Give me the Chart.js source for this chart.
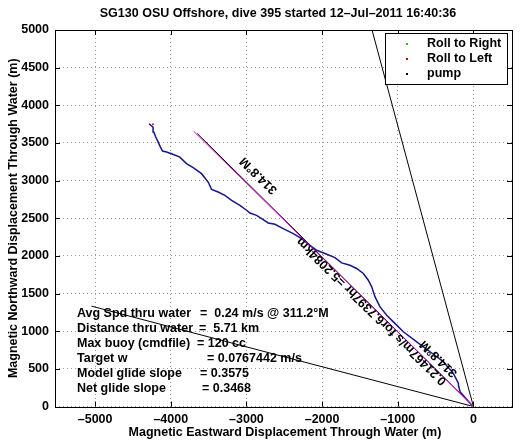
<!DOCTYPE html>
<html>
<head>
<meta charset="utf-8">
<script src="https://cdn.jsdelivr.net/npm/chart.js@4.4.0/dist/chart.umd.min.js"></script>
<style>
html, body { margin: 0; padding: 0; background: #fff; }
</style>
</head>
<body>
<canvas id="graph" width="521" height="442"></canvas>
<script>
// glider track through water (m), from surfacing point outward
const trackX = [0, -44, -176, -198, -198, -265, -397, -573, -749, -926, -1058, -1146, -1234, -1300, -1344, -1389, -1455, -1543, -1631, -1741, -1830, -1962, -2072, -2160, -2270, -2381, -2514, -2623, -2712, -2778, -2866, -2954, -2998, -3087, -3196, -3285, -3374, -3461, -3506, -3593, -3704, -3792, -3880, -3990, -4056, -4109, -4136, -4167, -4198, -4224, -4234, -4287];
const trackY = [0, 42, 196, 285, 308, 440, 594, 727, 859, 992, 1124, 1213, 1323, 1456, 1589, 1677, 1766, 1833, 1876, 1907, 1978, 2031, 2075, 2141, 2230, 2297, 2363, 2420, 2437, 2482, 2539, 2570, 2606, 2672, 2738, 2805, 2848, 2884, 2981, 3092, 3172, 3225, 3312, 3357, 3379, 3392, 3445, 3511, 3578, 3644, 3710, 3755];

// heading lines
const headingX = [0, -3695];
const headingY = [0, 3653];
const courseX = [0, -3650];
const courseY = [0, 3625];
const steepX = [0, -1340];
const steepY = [0, 5000];
const shallowX = [0, -5048];
const shallowY = [0, 1333];

// legend-only series
const rollRightX = [];
const rollRightY = [];
const rollLeftX = [-4235];
const rollLeftY = [3748];
const pumpX = [];
const pumpY = [];

const xTicks = [-5000, -4000, -3000, -2000, -1000, 0];
const yTicks = [0, 500, 1000, 1500, 2000, 2500, 3000, 3500, 4000, 4500, 5000];

const summaryLabels = ['Avg Spd thru water', 'Distance thru water', 'Max buoy (cmdfile)', 'Target w', 'Model glide slope', 'Net glide slope'];
const summaryValues = ['=  0.24 m/s @ 311.2\u00b0M', '=  5.71 km', '= 120 cc', '= 0.0767442 m/s', '= 0.3575', '= 0.3468'];
const summaryEqX = [200, 199, 197, 207, 200, 202];

// labels along the heading line: text, anchor (data), offset (px)
const lineLabels = ['0.21467m/s for6.7397hr =5.2084km', '314.8\u00b0M', '314.8\u00b0M'];
const lineLabelX = [-348, -329, -2745];
const lineLabelY = [345, 327, 2722];
const lineLabelOff = [0, 13, 17];

const FONT = '"Liberation Sans", Arial, Helvetica, sans-serif';

function pts(xs, ys) { return xs.map((x, i) => ({x: x, y: ys[i]})); }
function fmt(v) { return v < 0 ? '\u2013' + Math.abs(v) : '' + v; }

const decor = {
  id: 'decor',
  afterDatasetsDraw(chart) {
    const ctx = chart.ctx, a = chart.chartArea;
    const sx = chart.scales.x, sy = chart.scales.y;
    ctx.save();
    ctx.fillStyle = '#000';
    ctx.font = 'bold 12.5px ' + FONT;

    // labels along heading line
    const o = {x: sx.getPixelForValue(0), y: sy.getPixelForValue(0)};
    const e = {x: sx.getPixelForValue(headingX[1]), y: sy.getPixelForValue(headingY[1])};
    const ang = Math.atan2(e.y - o.y, e.x - o.x);
    ctx.textBaseline = 'alphabetic';
    ctx.textAlign = 'left';
    lineLabels.forEach((t, i) => {
      ctx.save();
      ctx.translate(sx.getPixelForValue(lineLabelX[i]), sy.getPixelForValue(lineLabelY[i]));
      ctx.rotate(ang);
      ctx.fillText(t, 0, lineLabelOff[i]);
      ctx.restore();
    });

    // summary text
    ctx.textBaseline = 'middle';
    summaryLabels.forEach((t, i) => {
      const y = 314 + i * 15;
      ctx.fillText(t, 77, y);
      ctx.fillText(summaryValues[i], summaryEqX[i], y);
    });

    // inside ticks
    ctx.strokeStyle = '#000';
    ctx.lineWidth = 1;
    ctx.beginPath();
    xTicks.forEach(v => {
      const x = Math.round(sx.getPixelForValue(v)) + 0.5;
      ctx.moveTo(x, a.bottom); ctx.lineTo(x, a.bottom - 5);
      ctx.moveTo(x, a.top); ctx.lineTo(x, a.top + 5);
    });
    yTicks.forEach(v => {
      const y = Math.round(sy.getPixelForValue(v)) + 0.5;
      ctx.moveTo(a.left, y); ctx.lineTo(a.left + 5, y);
      ctx.moveTo(a.right, y); ctx.lineTo(a.right - 5, y);
    });
    ctx.stroke();

    // box
    ctx.strokeRect(Math.round(a.left) + 0.5, Math.round(a.top) + 0.5, Math.round(a.right - a.left), Math.round(a.bottom - a.top));

    // legend
    const lx = 385.5, ly = 33.5, lw = 122, lh = 51;
    ctx.fillStyle = '#fff';
    ctx.fillRect(lx, ly, lw, lh);
    ctx.strokeRect(lx, ly, lw, lh);
    const items = chart.data.datasets.filter(d => d.inLegend);
    items.forEach((d, i) => {
      const y = 44 + i * 15;
      ctx.fillStyle = d.backgroundColor;
      ctx.fillRect(406, y - 1, 2, 2);
      ctx.fillStyle = '#000';
      ctx.fillText(d.label, 427, y);
    });
    ctx.restore();
  },
  afterDraw(chart) {
    const ctx = chart.ctx, a = chart.chartArea;
    ctx.save();
    ctx.fillStyle = '#000';
    ctx.font = 'bold 12.5px ' + FONT;
    ctx.textAlign = 'center';
    ctx.textBaseline = 'middle';
    ctx.fillText('SG130 OSU Offshore, dive 395 started 12\u2013Jul\u20132011 16:40:36', 278, 14);
    ctx.fillText('Magnetic Eastward Displacement Through Water (m)', 285, 433);
    ctx.translate(14, (a.top + a.bottom) / 2);
    ctx.rotate(-Math.PI / 2);
    ctx.fillText('Magnetic Northward Displacement Through Water (m)', 0, 0);
    ctx.restore();
  }
};

const lineDs = (label, xs, ys, color, width) => ({
  label: label, data: pts(xs, ys), showLine: true, borderColor: color, backgroundColor: color,
  borderWidth: width, pointRadius: 0, fill: false, tension: 0
});
const dotDs = (label, xs, ys, color) => ({
  label: label, data: pts(xs, ys), showLine: false, borderColor: color, backgroundColor: color,
  pointRadius: 1.2, pointStyle: 'rect', borderWidth: 0, inLegend: true
});

const tickFont = {family: FONT, size: 12.5, weight: 'bold'};

new Chart(document.getElementById('graph').getContext('2d'), {
  type: 'scatter',
  data: {
    datasets: [
      lineDs('current A', steepX, steepY, '#000', 1),
      lineDs('current B', shallowX, shallowY, '#000', 1),
      lineDs('course', courseX, courseY, '#000', 1),
      lineDs('track', trackX, trackY, '#161690', 1.5),
      lineDs('heading', headingX, headingY, '#e000e0', 1),
      dotDs('Roll to Right', rollRightX, rollRightY, '#00d000'),
      dotDs('Roll to Left', rollLeftX, rollLeftY, '#d00000'),
      dotDs('pump', pumpX, pumpY, '#000')
    ].map((d, i) => Object.assign(d, {order: 10 - i}))
  },
  options: {
    responsive: false,
    animation: false,
    devicePixelRatio: 1,
    layout: {padding: {top: 30, right: 9, left: 0, bottom: 0}},
    plugins: {legend: {display: false}, title: {display: false}, tooltip: {enabled: false}},
    scales: {
      x: {
        type: 'linear', min: -5530, max: 510,
        afterBuildTicks: s => { s.ticks = xTicks.map(v => ({value: v})); },
        afterFit: s => { s.height = 35.5; },
        grid: {color: '#9a9a9a', lineWidth: 1, drawTicks: false},
        border: {display: false, dash: [1, 3]},
        ticks: {padding: 6, color: '#000', font: tickFont, maxRotation: 0, autoSkip: false, callback: v => fmt(v)}
      },
      y: {
        type: 'linear', min: 0, max: 5000,
        afterBuildTicks: s => { s.ticks = yTicks.map(v => ({value: v})); },
        afterFit: s => { s.width = 55; },
        grid: {color: '#9a9a9a', lineWidth: 1, drawTicks: false},
        border: {display: false, dash: [1, 3]},
        ticks: {padding: 6, color: '#000', font: tickFont, autoSkip: false, callback: v => fmt(v)}
      }
    }
  },
  plugins: [decor]
});
</script>
</body>
</html>
